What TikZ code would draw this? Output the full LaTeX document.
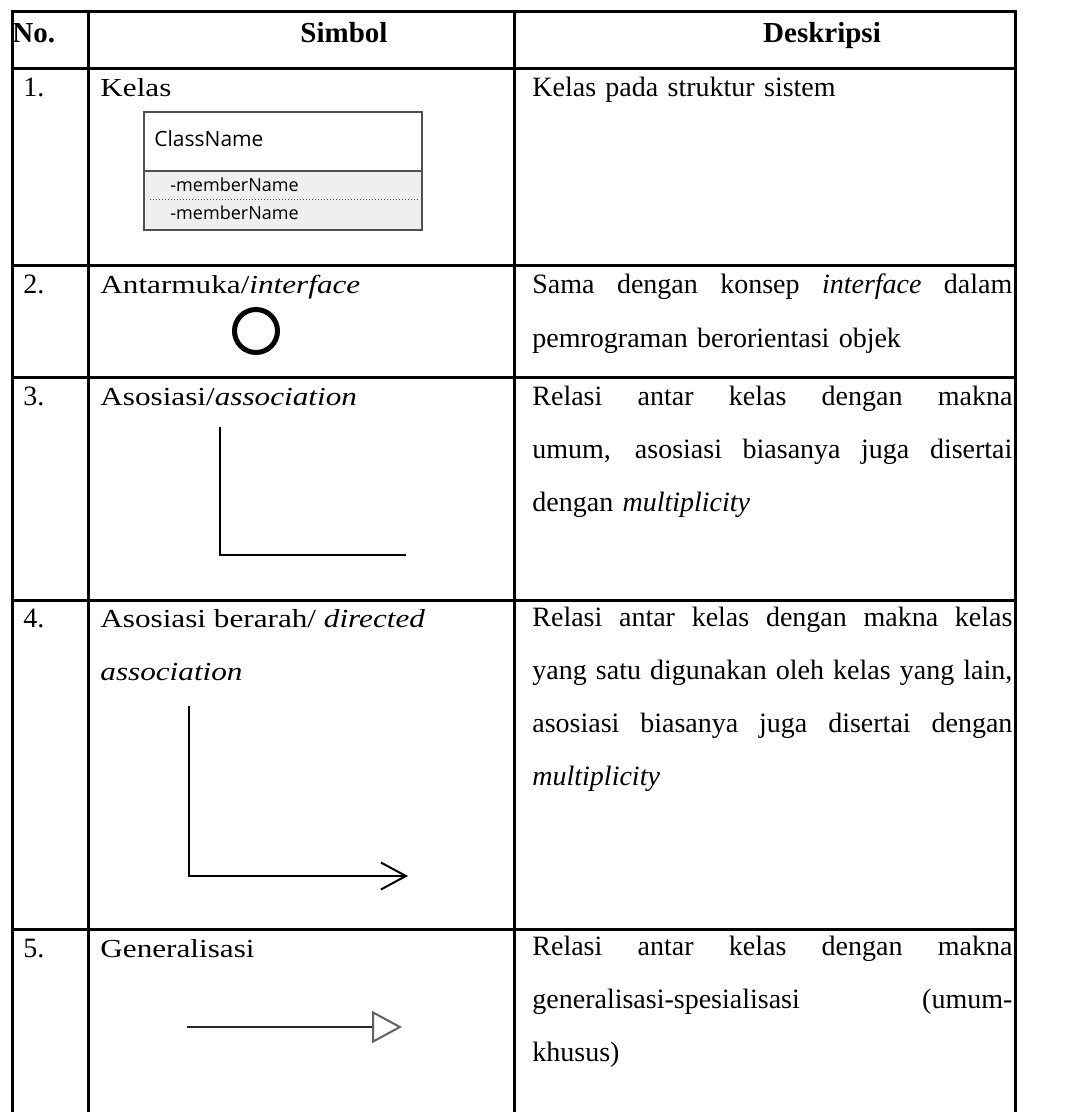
\documentclass[tikz,border=0pt]{standalone}
\usepackage{fontspec}
\setmainfont{Liberation Serif}
\newfontfamily\symbolfont[FakeStretch=1.2]{Liberation Serif}
\newfontfamily\umlfont{Open Sans}
\usetikzlibrary{arrows.meta}
\usetikzlibrary{positioning}
\definecolor{umlborder}{HTML}{505050}
\definecolor{umlfill}{HTML}{EFEFEF}
\definecolor{gentip}{HTML}{606060}
\newcommand{\fullline}[1]{{\spaceskip=0pt\xspaceskip=0pt\makebox[240pt][s]{#1}}}
\tikzset{tableline/.style = {line width = 1.5pt, line cap = rect}}
\tikzset{txt/.style = {anchor = base west, inner sep = 0,
                       font = \fontsize{14}{26.5}\selectfont}}
\tikzset{symtxt/.style = {txt, font = \symbolfont\fontsize{13}{26.5}\selectfont}}
\tikzset{head/.style = {anchor = base, inner sep = 0,
                        font = \fontsize{14.5}{26.5}\selectfont\bfseries}}
\tikzset{desc/.style = {txt, text width = 240pt, align = left}}
\tikzset{uml/.style = {anchor = base west, inner sep = 0, font = \umlfont\fontsize{9}{10}\selectfont}}
\tikzset{symline/.style = {line width = 1pt}}

\begin{document}
\begin{tikzpicture}[x=0.5pt, y=-0.5pt]
    \useasboundingbox (0, 0) rectangle (1068, 1112);
    \foreach \y in {12, 69, 266, 377, 600, 929}
      \draw [tableline] (12, \y) -- (1015, \y);
    \foreach \x in {12, 88, 514, 1015}
      \draw [tableline] (\x, 12) -- (\x, 1112);

    \node [head, anchor = base west] (hno) at (12, 43) {No.};
    \node [head] (hsym) at (344, 43) {Simbol};
    \node [head] (hdesc) at (822, 43) {Deskripsi};

    \node [txt] (n1) at (23, 97) {1.};
    \node [txt] (n2) at (23, 294) {2.};
    \node [txt] (n3) at (23, 405) {3.};
    \node [txt] (n4) at (23, 627) {4.};
    \node [txt] (n5) at (23, 957) {5.};

    \node [symtxt] (s1) at (100, 97) {Kelas};
    \node [symtxt] (s2) at (100, 294) {Antarmuka/\textit{interface}};
    \node [symtxt] (s3) at (100, 405) {Asosiasi/\textit{association}};
    \node [symtxt] (s4) at (100, 627) {Asosiasi berarah/ \textit{directed}};
    \node [symtxt] (s4b) at (100, 680) {\textit{association}};
    \node [symtxt] (s5) at (100, 957) {Generalisasi};

    \node [desc] (d1) at (532, 97) {Kelas pada struktur sistem};
    \node [desc] (d2) at (532, 294) {\fullline{Sama dengan konsep \textit{interface} dalam}\\
      pemrograman berorientasi objek};
    \node [desc] (d3) at (532, 405) {\fullline{Relasi antar kelas dengan makna}\\
      \fullline{umum, asosiasi biasanya juga disertai}\\
      dengan \textit{multiplicity}};
    \node [desc] (d4) at (532, 626) {\fullline{Relasi antar kelas dengan makna kelas}\\
      \fullline{yang satu digunakan oleh kelas yang lain,}\\
      \fullline{asosiasi biasanya juga disertai dengan}\\
      \textit{multiplicity}};
    \node [desc] (d5) at (532, 955) {\fullline{Relasi antar kelas dengan makna}\\
      \fullline{generalisasi-spesialisasi (umum-}\\
      khusus)};

    \draw [umlborder, line width = 0.8pt, fill = white] (144, 112) rectangle (422, 171);
    \draw [umlborder, line width = 0.8pt, fill = umlfill] (144, 171) rectangle (422, 230);
    \draw [umlborder, densely dotted, line width = 0.5pt] (150, 200) -- (418, 200);
    \node [uml, font = \umlfont\fontsize{10.5}{12}\selectfont] (cname) at (154, 147) {ClassName};
    \node [uml] (m1) at (170, 192) {-memberName};
    \node [uml] (m2) at (170, 220) {-memberName};

    \node [draw, circle, line width = 2.5pt, minimum size = 21.5pt, inner sep = 0] (iface) at (256, 331) {};

    \coordinate (astart) at (220, 427);
    \coordinate (acorner) at (220, 555);
    \coordinate (aend) at (406, 555);
    \draw [symline] (astart) -- (acorner) -- (aend);

    \coordinate (dstart) at (189, 706);
    \coordinate (dcorner) at (189, 876);
    \coordinate (dend) at (408, 876);
    \draw [symline, -{Straight Barb[length = 12.5pt, width = 13.5pt]}] (dstart) -- (dcorner) -- (dend);

    \coordinate (gstart) at (187, 1027);
    \coordinate (gend) at (402, 1027);
    \draw [symline, black!85, -{Triangle[open, length = 15pt, width = 16pt, color = gentip]}] (gstart) -- (gend);
  \end{tikzpicture}
\end{document}
